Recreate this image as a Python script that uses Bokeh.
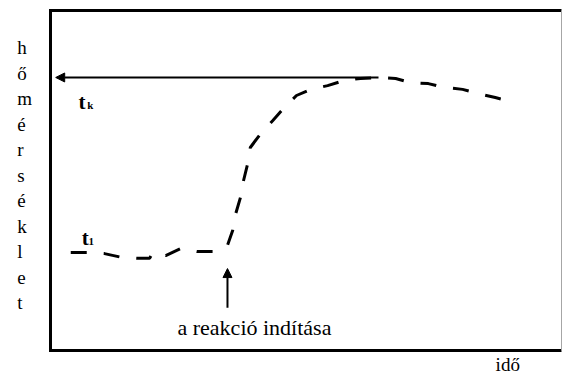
from bokeh.plotting import figure
from bokeh.models import Range1d, Arrow, NormalHead
from bokeh.core.properties import value
from bokeh.embed import file_html
from bokeh.resources import INLINE

# curve: time (x, 0..100) vs temperature (y, 0..100)
ido = [3.9, 7.1, 10.4, 13.7, 17.0, 19.1, 19.7, 22.2, 25.1, 28.3, 31.8, 34.1, 35.1,
       35.7, 36.6, 37.2, 38.0, 38.5, 40.5, 42.8, 44.9, 47.4, 50.1, 53.4, 56.5,
       59.7, 63.2, 66.5, 69.4, 72.8, 75.7, 79.4, 82.3, 85.7, 88.8]
homerseklet = [28.8, 28.8, 28.5, 27.4, 27.1, 27.1, 28.8, 27.9, 30.0, 29.1, 29.1, 30.9, 35.3,
               40.3, 45.0, 50.0, 55.0, 59.7, 63.8, 67.6, 71.2, 75.0, 76.8, 77.9, 79.4,
               80.0, 80.3, 80.0, 78.8, 78.5, 77.4, 76.8, 75.6, 74.4, 73.2]

# plot box (axis extent) in data units
box_x = [0.0, 98.46]
box_y = [0.0, 100.0]

# arrows
tk_arrow_x = [63.2, 1.0]
tk_arrow_y = [80.3, 80.3]
start_arrow_x = [34.1, 34.1]
start_arrow_y = [12.6, 24.1]

# labels
ylabel_letters = list("hőmérséklet")
xlabel = "idő"
start_label = "a reakció indítása"
tk_label = ("t", "k")
t1_label = ("t", "1")

FONT = value("Liberation Serif")

# pixel scale: 5.19 px per x unit, 3.4 px per y unit; box left at 50px, bottom at 350px
W, H = 562, 376
PX, PY = 5.19, 3.4
LEFT, BOTTOM = 50, 350

p = figure(width=W, height=H,
           x_range=Range1d(-LEFT / PX, (W - LEFT) / PX),
           y_range=Range1d((BOTTOM - H) / PY, BOTTOM / PY),
           x_axis_type=None, y_axis_type=None,
           output_backend="svg", toolbar_location=None,
           min_border=0, min_border_left=0, min_border_right=0,
           min_border_top=0, min_border_bottom=0)
p.outline_line_color = None
p.background_fill_color = "white"
p.border_fill_color = "white"

# frame: thick black left/top/bottom, thin grey right
p.line([box_x[1], box_x[0], box_x[0], box_x[1]], [box_y[1], box_y[1], box_y[0], box_y[0]],
       line_color="black", line_width=3, line_join="miter")
p.line([box_x[1], box_x[1]], [box_y[1], box_y[0]], line_color="#a6a6a6", line_width=1)

p.line(ido, homerseklet, line_color="black", line_width=3, line_dash="16 17", line_cap="butt")

for xs, ys in ((tk_arrow_x, tk_arrow_y), (start_arrow_x, start_arrow_y)):
    p.add_layout(Arrow(end=NormalHead(size=9, fill_color="black", line_color="black", line_width=1),
                       x_start=xs[0], y_start=ys[0], x_end=xs[1], y_end=ys[1],
                       line_color="black", line_width=2))

def txt(xs, ys, texts, size, bold=False, align="left"):
    p.text(x=xs, y=ys, text=texts, text_font=FONT, text_font_size=size,
           text_font_style="bold" if bold else "normal", text_color="black",
           text_align=align, text_baseline="alphabetic")

# t_k and t_1 (small subscript after a bold t)
txt([5.4, 6.0], [73.1, 33.1], [tk_label[0], t1_label[0]], "21px", bold=True)
txt([7.1, 7.3], [72.1, 32.1], [tk_label[1], t1_label[1]], "11px", bold=True)

# reaction start
txt([39.3], [6.9], [start_label], "22px", align="center")

# vertical y label (one letter per line)
txt([-6.4] * len(ylabel_letters), [89.0 - i * 7.5 for i in range(len(ylabel_letters))],
    ylabel_letters, "19px")

# x label
txt([88.1], [-4.2], [xlabel], "19px", align="center")

open("out.html", "w").write(file_html(p, INLINE))
